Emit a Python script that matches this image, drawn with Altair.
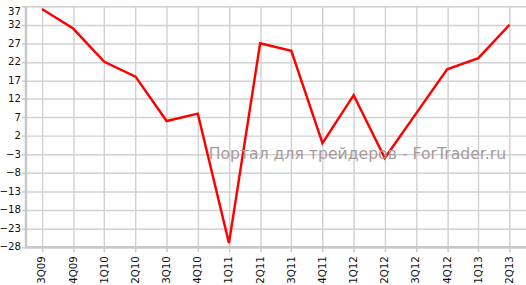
import altair as alt
import pandas as pd

quarters = ["3Q09", "4Q09", "1Q10", "2Q10", "3Q10", "4Q10", "1Q11", "2Q11",
            "3Q11", "4Q11", "1Q12", "2Q12", "3Q12", "4Q12", "1Q13", "2Q13"]
values = [36.3, 31, 22, 18, 6, 8, -27, 27, 25, 0, 13, -4, 8, 20, 23, 32]
y_ticks = [37, 32, 27, 22, 17, 12, 7, 2, -3, -8, -13, -18, -23, -28]
watermark = "Портал для трейдеров - ForTrader.ru"

df = pd.DataFrame({"q": quarters, "v": values})

base = alt.Chart(df)

line = base.mark_line(color="#ff0000", strokeWidth=2.5, clip=False).encode(
    x=alt.X("q:N", sort=quarters, title=None,
            scale=alt.Scale(type="point", padding=0.53),
            axis=alt.Axis(labelAngle=-90, grid=True, gridColor="#d2d2d2", gridWidth=1.5,
                          domainColor="#c8c8c8", domainWidth=2.5, tickColor="#c8c8c8",
                          tickSize=5, tickWidth=1.5, labelPadding=4,
                          labelFont="DejaVu Sans", labelFontSize=10.5, labelColor="#111")),
    y=alt.Y("v:Q", title=None,
            scale=alt.Scale(domain=[-28, 37], nice=False, zero=False),
            axis=alt.Axis(values=y_ticks, grid=True, gridColor="#d2d2d2", gridWidth=1.5,
                          domainColor="#c8c8c8", domainWidth=2.5, tickColor="#c8c8c8",
                          tickSize=4, tickWidth=1.5, labelPadding=1,
                          labelBaseline={"condition": {"test": "datum.value == 37", "value": "top"},
                                         "value": "middle"},
                          labelFont="DejaVu Sans", labelFontSize=10.5, labelColor="#111")),
)

wm = alt.Chart(pd.DataFrame({"t": [watermark]})).mark_text(
    align="left", baseline="alphabetic", font="DejaVu Sans", fontSize=16,
    color="#a89a9a"
).encode(text="t:N", x=alt.value(187), y=alt.value(155.5))

chart = alt.layer(line, wm).properties(
    width=511, height=245.5,
    autosize=alt.AutoSizeParams(type="none"),
    padding={"left": 26, "top": 3.5, "right": 0, "bottom": 36},
).configure_view(stroke=None).configure(background="white")

chart.save("out.html", embed_options={"renderer": "svg", "actions": False})
